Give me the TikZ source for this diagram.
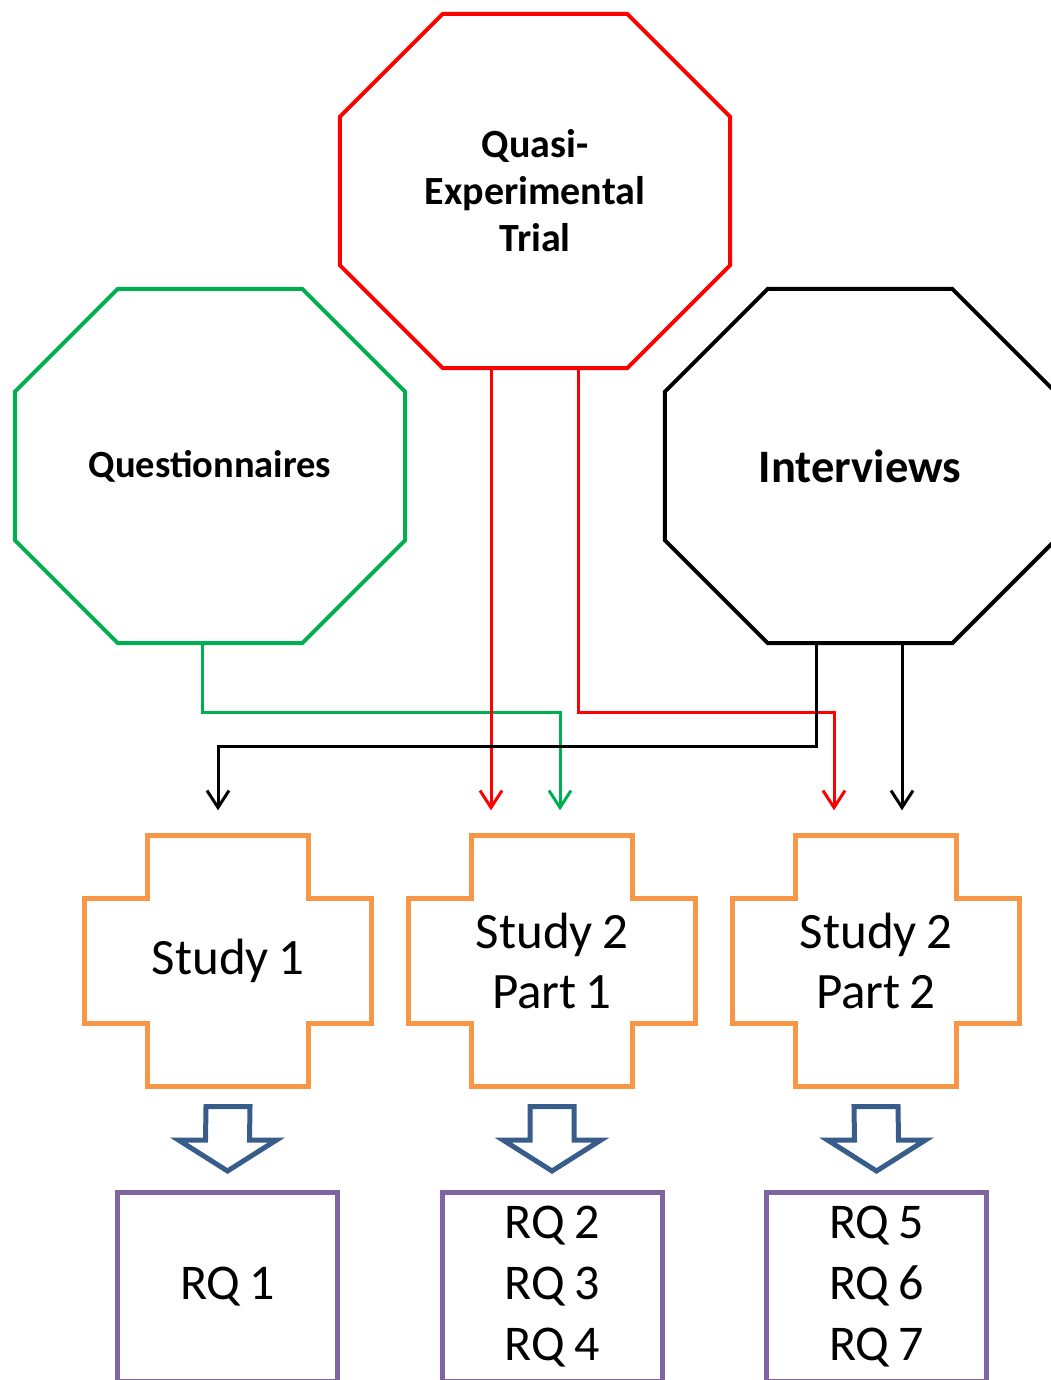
\documentclass[tikz,border=0pt]{standalone}
\usepackage{fontspec}
\setmainfont{Carlito}[WordSpace=0.8]
\usetikzlibrary{arrows.meta}
\definecolor{qgreen}{HTML}{00B050}
\definecolor{studyorange}{HTML}{F79646}
\definecolor{rqpurple}{HTML}{8064A2}
\definecolor{blockblue}{HTML}{385D8A}

\begin{document}
\begin{tikzpicture}[
  x=1pt, y=-1pt,
  line join=miter,
  method/.style={
     rectangle,
     minimum width=390pt,
     minimum height=354pt,
     align=center,
     font=\bfseries\fontsize{40}{47}\selectfont,
  },
  study/.style={
     rectangle,
     minimum width=286pt,
     minimum height=251pt,
     align=center,
     font=\fontsize{51}{60}\selectfont,
  },
  rq/.style={
     rectangle,
     draw=rqpurple,
     line width=5pt,
     minimum width=220pt,
     minimum height=189pt,
     align=center,
     font=\fontsize{50}{61}\selectfont,
  },
  link/.style={
     line width=3pt,
     -{Straight Barb[length=17pt,width=22pt]},
  },
]
   \useasboundingbox (0,0) rectangle (1051,1380);
   \clip (0,0) rectangle (1051,1380);

   \node[method] (quasi) at (535,191) {Quasi-\\Experimental\\Trial};
   \node[method,font=\bfseries\fontsize{38.5}{45}\selectfont] (quest) at (210,466) {Questionnaires};
   \node[method,font=\bfseries\fontsize{46.5}{55}\selectfont] (inter) at (860,466) {Interviews};

   \node[study] (s1) at (228,961) {Study 1};
   \node[study] (s2a) at (552,961) {Study 2\\Part 1};
   \node[study] (s2b) at (876,961) {Study 2\\Part 2};

   \node[rq] (rq1) at (227.5,1287) {RQ 1};
   \node[rq] (rq2) at (552,1287) {RQ 2\\RQ 3\\RQ 4};
   \node[rq] (rq3) at (876.5,1287) {RQ 5\\RQ 6\\RQ 7};

   \foreach \n/\c in {quest/qgreen, quasi/red, inter/black}
      \draw[color=\c, line width=4pt] ([xshift=103pt]\n.north west) -- ([xshift=-103pt]\n.north east)
         -- ([yshift=-103pt]\n.north east) -- ([yshift=103pt]\n.south east)
         -- ([xshift=-103pt]\n.south east) -- ([xshift=103pt]\n.south west)
         -- ([yshift=103pt]\n.south west) -- ([yshift=-103pt]\n.north west) -- cycle;

   \foreach \n in {s1, s2a, s2b}
      \draw[studyorange, line width=5pt] ([xshift=63pt]\n.north west) -- ([xshift=-63pt]\n.north east)
         -- ([xshift=-63pt,yshift=-63pt]\n.north east) -- ([yshift=-63pt]\n.north east)
         -- ([yshift=63pt]\n.south east) -- ([xshift=-63pt,yshift=63pt]\n.south east)
         -- ([xshift=-63pt]\n.south east) -- ([xshift=63pt]\n.south west)
         -- ([xshift=63pt,yshift=63pt]\n.south west) -- ([yshift=63pt]\n.south west)
         -- ([yshift=-63pt]\n.north west) -- ([xshift=63pt,yshift=-63pt]\n.north west) -- cycle;

   \foreach \s/\r in {s1/rq1, s2a/rq2, s2b/rq3}
      \draw[blockblue, line width=5pt] ([xshift=-22pt,yshift=-20pt]\s.south) -- ([xshift=22pt,yshift=-20pt]\s.south)
         -- ([xshift=22pt,yshift=50pt]\r.north) -- ([xshift=49pt,yshift=50pt]\r.north)
         -- ([yshift=19pt]\r.north) -- ([xshift=-49pt,yshift=50pt]\r.north)
         -- ([xshift=-22pt,yshift=50pt]\r.north) -- cycle;

   \draw[link, qgreen] ([xshift=-8pt]quest.south) -- ++(0,69) -| ([xshift=8pt,yshift=25pt]s2a.north);
   \draw[link, red] ([xshift=-44pt]quasi.south) -- ([xshift=-61pt,yshift=25pt]s2a.north);
   \draw[link, red] ([xshift=43pt]quasi.south) -- ++(0,344) -| ([xshift=-42pt,yshift=25pt]s2b.north);
   \draw[link] ([xshift=-44pt]inter.south) -- ++(0,103) -| ([xshift=-10pt,yshift=25pt]s1.north);
   \draw[link] ([xshift=42pt]inter.south) -- ([xshift=26pt,yshift=25pt]s2b.north);
\end{tikzpicture}
\end{document}
